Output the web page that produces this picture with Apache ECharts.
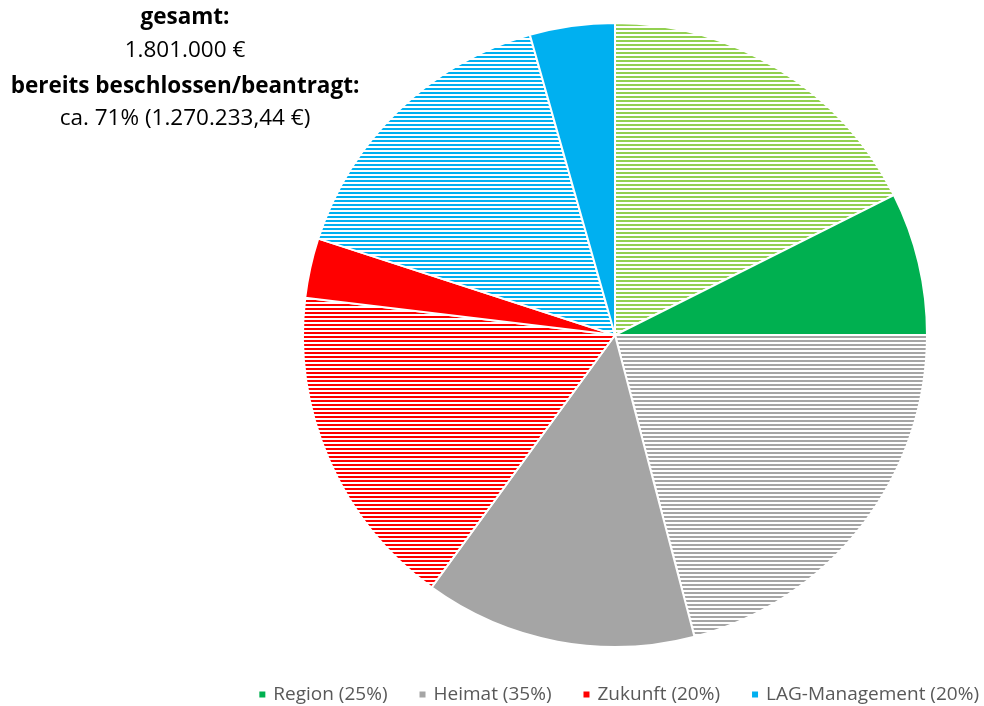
<!DOCTYPE html>
<html>
<head>
<meta charset="utf-8">
<script src="https://cdn.jsdelivr.net/npm/echarts@6/dist/echarts.min.js"></script>
<style>
html,body{margin:0;padding:0;background:#fff;}
#chart{width:984px;height:706px;}
</style>
</head>
<body>
<div id="chart"></div>
<script>
// Categories and values (percent of total budget 1.801.000 €)
const categories = ['Region (25%)', 'Heimat (35%)', 'Zukunft (20%)', 'LAG-Management (20%)'];
const approvedShare = [17.6, 20.9, 16.9, 15.6];   // bereits beschlossen/beantragt (hatched)
const openShare = [7.4, 14.1, 3.1, 4.4];          // noch offen (solid)
const solidColors = ['#00B050', '#A5A5A5', '#FF0000', '#00B0F0'];
const hatchColors = ['#92D050', '#A5A5A5', '#FF0000', '#00B0F0'];
const infoLines = ['gesamt:', '1.801.000 €', 'bereits beschlossen/beantragt:', 'ca. 71% (1.270.233,44 €)'];

function hatch(color) {
  const c = document.createElement('canvas');
  c.width = 4; c.height = 4;
  const ctx = c.getContext('2d');
  ctx.fillStyle = '#ffffff';
  ctx.fillRect(0, 0, 4, 4);
  ctx.fillStyle = color;
  ctx.fillRect(0, 0, 4, 2);
  return { image: c, repeat: 'repeat' };
}

const pieData = [];
categories.forEach((cat, i) => {
  pieData.push({
    name: cat + ' beschlossen',
    value: approvedShare[i],
    itemStyle: { color: hatch(hatchColors[i]) }
  });
  pieData.push({
    name: cat,
    value: openShare[i],
    itemStyle: { color: solidColors[i] }
  });
});

const lineY = [18, 51, 87, 119];

const chart = echarts.init(document.getElementById('chart'), null, { renderer: 'canvas' });
chart.setOption({
  animation: false,
  backgroundColor: '#ffffff',
  legend: {
    data: categories,
    right: 0,
    top: 680,
    icon: 'rect',
    itemWidth: 8,
    itemHeight: 8,
    itemGap: 30,
    textStyle: { fontFamily: 'Open Sans', fontSize: 19, color: '#595959', padding: [0, 0, 0, 2] }
  },
  graphic: infoLines.map((t, i) => ({
    type: 'text',
    x: 185,
    y: lineY[i],
    style: {
      text: t,
      textAlign: 'center',
      textVerticalAlign: 'middle',
      fontFamily: 'Open Sans',
      fontSize: 22.5,
      fontWeight: (i % 2 === 0) ? 'bold' : 'normal',
      fill: '#000000'
    }
  })),
  series: [{
    type: 'pie',
    center: [615, 335],
    radius: [0, 312],
    startAngle: 90,
    clockwise: true,
    label: { show: false },
    labelLine: { show: false },
    emphasis: { disabled: true },
    itemStyle: { borderColor: '#ffffff', borderWidth: 2 },
    data: pieData
  }]
});
</script>
</body>
</html>
